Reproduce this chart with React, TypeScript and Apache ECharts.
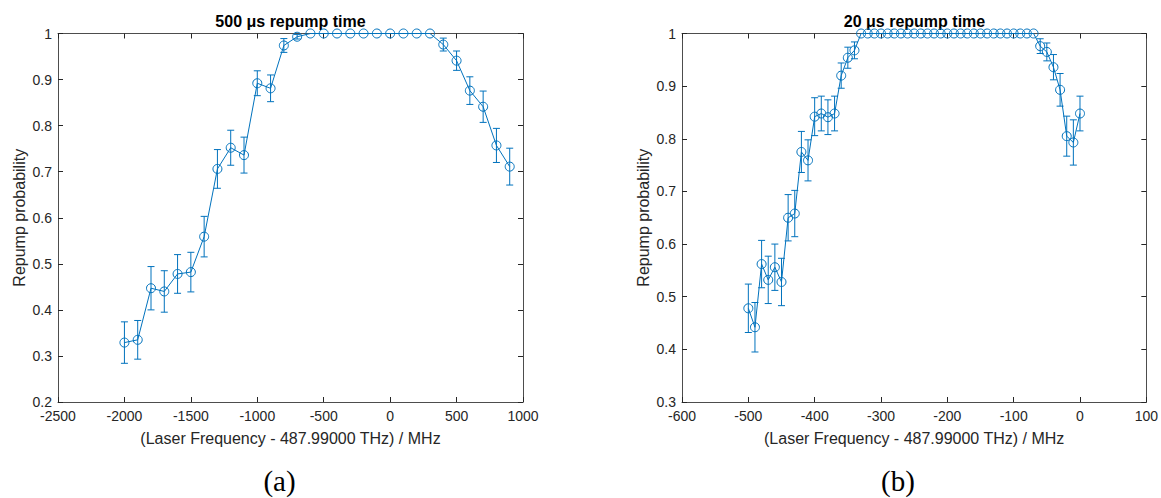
import React, { useEffect, useRef } from 'react';
import * as echarts from 'echarts';

// ---- Data: panel (a) 500 µs repump time ----
const leftX = [
  -2000, -1900, -1800, -1700, -1600, -1500, -1400, -1300, -1200, -1100,
  -1000, -900, -800, -700, -600, -500, -400, -300, -200, -100,
  0, 100, 200, 300, 400, 500, 600, 700, 800, 900,
];
const leftY = [
  0.329, 0.335, 0.447, 0.440, 0.478, 0.482, 0.559, 0.706, 0.752, 0.736,
  0.892, 0.881, 0.974, 0.993, 1, 1, 1, 1, 1, 1,
  1, 1, 1, 1, 0.976, 0.941, 0.876, 0.841, 0.757, 0.711,
];
const leftErr = [
  0.045, 0.042, 0.047, 0.045, 0.042, 0.043, 0.044, 0.042, 0.038, 0.039,
  0.027, 0.029, 0.015, 0.005, 0, 0, 0, 0, 0, 0,
  0, 0, 0, 0, 0.014, 0.021, 0.030, 0.034, 0.037, 0.040,
];

// ---- Data: panel (b) 20 µs repump time ----
const rightX = [
  -500, -490, -480, -470, -460, -450, -440, -430, -420, -410,
  -400, -390, -380, -370, -360, -350, -340, -330, -320, -310,
  -300, -290, -280, -270, -260, -250, -240, -230, -220, -210,
  -200, -190, -180, -170, -160, -150, -140, -130, -120, -110,
  -100, -90, -80, -70, -60, -50, -40, -30, -20, -10, 0,
];
const rightY = [
  0.478, 0.442, 0.562, 0.532, 0.556, 0.528, 0.650, 0.658, 0.775, 0.759,
  0.842, 0.848, 0.841, 0.848, 0.920, 0.954, 0.968, 1, 1, 1,
  1, 1, 1, 1, 1, 1, 1, 1, 1, 1,
  1, 1, 1, 1, 1, 1, 1, 1, 1, 1,
  1, 1, 1, 1, 0.976, 0.965, 0.936, 0.893, 0.805, 0.793, 0.848,
];
const rightErr = [
  0.046, 0.047, 0.045, 0.045, 0.044, 0.045, 0.044, 0.044, 0.039, 0.039,
  0.036, 0.033, 0.033, 0.033, 0.024, 0.020, 0.016, 0, 0, 0,
  0, 0, 0, 0, 0, 0, 0, 0, 0, 0,
  0, 0, 0, 0, 0, 0, 0, 0, 0, 0,
  0, 0, 0, 0, 0.014, 0.017, 0.024, 0.031, 0.038, 0.043, 0.033,
];

const titles = ['500 μs repump time', '20 μs repump time'];
const captions = ['(a)', '(b)'];
const xName = '(Laser Frequency - 487.99000 THz) / MHz';
const yName = 'Repump probability';

const BLUE = '#0072BD';
const AXIS = '#4d4d4d';
const TXT = '#262626';
const FONT = '"Liberation Sans", Arial, Helvetica, sans-serif';

function errData(xs: number[], ys: number[], es: number[]) {
  const out: number[][] = [];
  xs.forEach((x, i) => {
    if (es[i] > 0) out.push([x, ys[i] - es[i], ys[i] + es[i]]);
  });
  return out;
}

function renderErr(params: any, api: any) {
  const x = api.value(0);
  const lo = api.coord([x, api.value(1)]);
  const hi = api.coord([x, api.value(2)]);
  const cap = 3.5;
  const style = { stroke: BLUE, lineWidth: 1, fill: 'none' };
  return {
    type: 'group',
    children: [
      { type: 'line', shape: { x1: lo[0], y1: lo[1], x2: hi[0], y2: hi[1] }, style },
      { type: 'line', shape: { x1: lo[0] - cap, y1: lo[1], x2: lo[0] + cap, y2: lo[1] }, style },
      { type: 'line', shape: { x1: hi[0] - cap, y1: hi[1], x2: hi[0] + cap, y2: hi[1] }, style },
    ],
  };
}

const fmtY = (v: number) => String(parseFloat(v.toFixed(2)));
const fmtX = (v: number) => String(v);

function xAxes(gridIndex: number, min: number, max: number, interval: number) {
  const common = {
    gridIndex,
    type: 'value',
    min,
    max,
    interval,
    splitLine: { show: false },
    axisLine: { show: true, onZero: false, lineStyle: { color: AXIS, width: 1 } },
    axisTick: { show: true, inside: true, length: 5, lineStyle: { color: TXT } },
  };
  return [
    {
      ...common,
      position: 'bottom',
      axisLabel: { color: TXT, fontSize: 14, lineHeight: 12, fontFamily: FONT, margin: 8, formatter: fmtX },
      name: xName,
      nameLocation: 'middle',
      nameGap: 28,
      nameTextStyle: { color: TXT, fontSize: 16, fontFamily: FONT },
    },
    { ...common, position: 'top', axisLabel: { show: false } },
  ];
}

function yAxes(gridIndex: number, min: number, max: number) {
  const common = {
    gridIndex,
    type: 'value',
    min,
    max,
    interval: 0.1,
    splitLine: { show: false },
    axisLine: { show: true, onZero: false, lineStyle: { color: AXIS, width: 1 } },
    axisTick: { show: true, inside: true, length: 5, lineStyle: { color: TXT } },
  };
  return [
    {
      ...common,
      position: 'left',
      axisLabel: { color: TXT, fontSize: 14, lineHeight: 12, fontFamily: FONT, margin: 6, formatter: fmtY },
      name: yName,
      nameLocation: 'middle',
      nameRotate: 90,
      nameGap: 31,
      nameTextStyle: { color: TXT, fontSize: 16, fontFamily: FONT },
    },
    { ...common, position: 'right', axisLabel: { show: false } },
  ];
}

function lineSeries(xi: number, yi: number, xs: number[], ys: number[]) {
  return {
    type: 'line',
    xAxisIndex: xi,
    yAxisIndex: yi,
    data: xs.map((x, i) => [x, ys[i]]),
    symbol: 'circle',
    symbolSize: 9,
    showSymbol: true,
    itemStyle: { color: 'rgba(255,255,255,0)', borderColor: BLUE, borderWidth: 1 },
    lineStyle: { color: BLUE, width: 1 },
    emphasis: { disabled: true },
    z: 3,
  };
}

function errSeries(xi: number, yi: number, xs: number[], ys: number[], es: number[]) {
  return {
    type: 'custom',
    xAxisIndex: xi,
    yAxisIndex: yi,
    data: errData(xs, ys, es),
    renderItem: renderErr,
    encode: { x: 0, y: [1, 2] },
    z: 2,
  };
}

const GRID_TOP = 33.5;
const GRID_H = 368.5;
const GRID_W = 465;
const LEFTS = [58, 682];
const CAPTION_X = [279.5, 898];

export default function App() {
  const ref = useRef<HTMLDivElement>(null);
  useEffect(() => {
    document.body.style.margin = '0';
    if (!ref.current) return;
    const chart = echarts.init(ref.current, undefined, { renderer: 'svg' });
    const option: any = {
      animation: false,
      backgroundColor: '#ffffff',
      grid: LEFTS.map((l) => ({ left: l, top: GRID_TOP, width: GRID_W, height: GRID_H, containLabel: false })),
      xAxis: [...xAxes(0, -2500, 1000, 500), ...xAxes(1, -600, 100, 100)],
      yAxis: [...yAxes(0, 0.2, 1), ...yAxes(1, 0.3, 1)],
      series: [
        errSeries(0, 0, leftX, leftY, leftErr),
        lineSeries(0, 0, leftX, leftY),
        errSeries(2, 2, rightX, rightY, rightErr),
        lineSeries(2, 2, rightX, rightY),
      ],
      graphic: [
        ...titles.map((t, i) => ({
          type: 'text',
          x: LEFTS[i] + GRID_W / 2,
          y: 21,
          style: {
            text: t,
            fill: '#000',
            font: `bold 16px ${FONT}`,
            textAlign: 'center',
            textVerticalAlign: 'middle',
          },
        })),
        ...captions.map((c, i) => ({
          type: 'text',
          x: CAPTION_X[i],
          y: 481,
          style: {
            text: c,
            fill: '#000',
            font: '29px "Liberation Serif", "DejaVu Serif", serif',
            textAlign: 'center',
            textVerticalAlign: 'middle',
          },
        })),
      ],
    };
    chart.setOption(option);
    return () => chart.dispose();
  }, []);
  return <div ref={ref} style={{ width: 1161, height: 498 }} />;
}
